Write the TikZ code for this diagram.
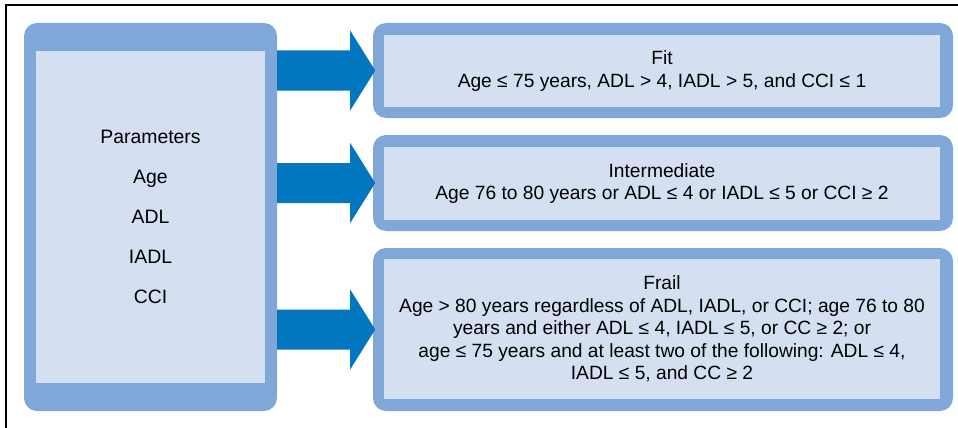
\documentclass[tikz,border=0pt]{standalone}
\usepackage{fontspec}
\setmainfont{Liberation Sans}
\definecolor{framec}{RGB}{127,168,217}
\definecolor{innerc}{RGB}{212,224,242}
\definecolor{arrowc}{RGB}{2,119,191}
\begin{document}
\begin{tikzpicture}[x=1pt,y=-1pt,
  outerbox/.style={fill=framec, rounded corners=13pt, inner sep=0pt, draw=none},
  innerbox/.style={fill=innerc, inner sep=0pt, draw=none, align=center, text=black},
  righttext/.style={font={\fontsize{19.2}{22.5}\selectfont}},
  lefttext/.style={font={\fontsize{19.4}{40}\selectfont}},
  bigarrow/.style={fill=arrowc}]
\useasboundingbox (0,0) rectangle (958,428);
\fill[white] (0,0) rectangle (958,428);
\draw[line width=1.3pt] (6,428) -- (6,5) -- (958,5);

% left box
\node[outerbox, minimum width=253pt, minimum height=388pt] (L) at (150.5,217) {};
\node[innerbox, lefttext, minimum width=229pt, minimum height=332pt] (Li) at (150.5,217)
  {Parameters\\Age\\ADL\\IADL\\CCI};

% right boxes
\node[outerbox, minimum width=580pt, minimum height=95pt] (B1) at (663,70.5) {};
\node[innerbox, righttext, minimum width=556pt, minimum height=72pt] (B1i) at (662,71)
  {Fit\\Age ≤ 75 years, ADL > 4, IADL > 5, and CCI ≤ 1};

\node[outerbox, minimum width=580pt, minimum height=96pt] (B2) at (663,183) {};
\node[innerbox, righttext, minimum width=556pt, minimum height=73pt] (B2i) at (662,183.5)
  {Intermediate\\Age 76 to 80 years or ADL ≤ 4 or IADL ≤ 5 or CCI ≥ 2};

\node[outerbox, minimum width=580pt, minimum height=163pt] (B3) at (663,329.5) {};
\node[innerbox, righttext, minimum width=556pt, minimum height=140pt] (B3i) at (662,329)
  {Frail\\Age > 80 years regardless of ADL, IADL, or CCI; age 76 to 80\\
   years and either ADL ≤ 4, IADL ≤ 5, or CC ≥ 2; or\\
   age ≤ 75 years and at least two of the following: ADL ≤ 4,\\
   IADL ≤ 5, and CC ≥ 2};

% arrows
\foreach \b in {B1,B2,B3}{
  \fill[bigarrow] (L.east |- \b.west) ++(0,-20) -- ++(73,0) -- ++(0,-20)
    -- ++(25,40) -- ++(-25,40) -- ++(0,-20) -- ++(-73,0) -- cycle;
}
\end{tikzpicture}
\end{document}
